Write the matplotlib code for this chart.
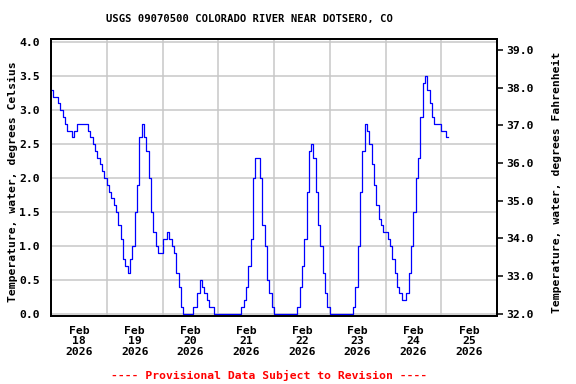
import matplotlib
matplotlib.use("Agg")
import matplotlib.pyplot as plt
import matplotlib.dates as mdates
import matplotlib.ticker as mticker
import pandas as pd

title = "USGS 09070500 COLORADO RIVER NEAR DOTSERO, CO"
footer = "---- Provisional Data Subject to Revision ----"
ylabel_c = "Temperature, water, degrees Celsius"
ylabel_f = "Temperature, water, degrees Fahrenheit"

# hourly water temperature (deg C), starting Feb 18 2026 00:00
temp_feb18 = [3.3, 3.2, 3.2, 3.1, 3.0, 2.9, 2.8, 2.7, 2.7, 2.6, 2.7, 2.8,
              2.8, 2.8, 2.8, 2.8, 2.7, 2.6, 2.5, 2.4, 2.3, 2.2, 2.1, 2.0]
temp_feb19 = [1.9, 1.8, 1.7, 1.6, 1.5, 1.3, 1.1, 0.8, 0.7, 0.6, 0.8, 1.0,
              1.5, 1.9, 2.6, 2.8, 2.6, 2.4, 2.0, 1.5, 1.2, 1.0, 0.9, 0.9]
temp_feb20 = [1.1, 1.1, 1.2, 1.1, 1.0, 0.9, 0.6, 0.4, 0.1, 0.0, 0.0, 0.0,
              0.0, 0.1, 0.1, 0.3, 0.5, 0.4, 0.3, 0.2, 0.1, 0.1, 0.0, 0.0]
temp_feb21 = [0.0, 0.0, 0.0, 0.0, 0.0, 0.0, 0.0, 0.0, 0.0, 0.0, 0.1, 0.2,
              0.4, 0.7, 1.1, 2.0, 2.3, 2.3, 2.0, 1.3, 1.0, 0.5, 0.3, 0.1]
temp_feb22 = [0.0, 0.0, 0.0, 0.0, 0.0, 0.0, 0.0, 0.0, 0.0, 0.0, 0.1, 0.4,
              0.7, 1.1, 1.8, 2.4, 2.5, 2.3, 1.8, 1.3, 1.0, 0.6, 0.3, 0.1]
temp_feb23 = [0.0, 0.0, 0.0, 0.0, 0.0, 0.0, 0.0, 0.0, 0.0, 0.0, 0.1, 0.4,
              1.0, 1.8, 2.4, 2.8, 2.7, 2.5, 2.2, 1.9, 1.6, 1.4, 1.3, 1.2]
temp_feb24 = [1.2, 1.1, 1.0, 0.8, 0.6, 0.4, 0.3, 0.2, 0.2, 0.3, 0.6, 1.0,
              1.5, 2.0, 2.3, 2.9, 3.4, 3.5, 3.3, 3.1, 2.9, 2.8, 2.8, 2.8]
temp_feb25 = [2.7, 2.7, 2.6, 2.6]

temp_c = (temp_feb18 + temp_feb19 + temp_feb20 + temp_feb21 +
          temp_feb22 + temp_feb23 + temp_feb24 + temp_feb25)
times = pd.date_range("2026-02-18 00:00", periods=len(temp_c), freq="h")

font = dict(family="DejaVu Sans Mono", weight="bold")

fig = plt.figure(figsize=(5.76, 3.84), dpi=100)
ax = fig.add_axes([51 / 576, 1 - 316 / 384, 446 / 576, 277 / 384])

ax.plot(times, temp_c, color="#0000FF", linewidth=0.9, drawstyle="steps-post")

ax.set_xlim(pd.Timestamp("2026-02-18"), pd.Timestamp("2026-02-26"))
ax.set_ylim(-0.035, 4.05)

ax.xaxis.set_major_locator(mdates.DayLocator())
ax.xaxis.set_major_formatter(mticker.NullFormatter())
ax.xaxis.set_minor_locator(mdates.HourLocator(byhour=[12]))
ax.xaxis.set_minor_formatter(mdates.DateFormatter("%b\n%d\n%Y"))
ax.tick_params(axis="x", which="both", length=0)
ax.tick_params(axis="x", which="minor", pad=7)

ax.yaxis.set_major_locator(mticker.MultipleLocator(0.5))
ax.yaxis.set_major_formatter(mticker.FormatStrFormatter("%.1f"))
ax.tick_params(axis="y", length=0, pad=8)

ax.grid(True, which="major", color="#C8C8C8", linewidth=1.1)
ax.set_axisbelow(True)

for lbl in ax.get_xticklabels(minor=True) + ax.get_yticklabels():
    lbl.set_fontfamily(font["family"])
    lbl.set_fontweight("bold")
    lbl.set_fontsize(8.2)
for lbl in ax.get_xticklabels(minor=True):
    lbl.set_linespacing(1.05)

for sp in ax.spines.values():
    sp.set_linewidth(1.3)

ax2 = ax.twinx()
lo, hi = ax.get_ylim()
ax2.set_ylim(32 + 1.8 * lo, 32 + 1.8 * hi)
ax2.yaxis.set_major_locator(mticker.MultipleLocator(1.0))
ax2.yaxis.set_major_formatter(mticker.FormatStrFormatter("%.1f"))
ax2.tick_params(axis="y", length=4, width=1.1, pad=3)
for lbl in ax2.get_yticklabels():
    lbl.set_fontfamily(font["family"])
    lbl.set_fontweight("bold")
    lbl.set_fontsize(8.2)
for sp in ax2.spines.values():
    sp.set_linewidth(1.3)

fig.text(13 / 576, 1 - 182 / 384, ylabel_c, rotation=90, ha="center", va="center",
         fontsize=8.2, **font)
fig.text(557 / 576, 1 - 182 / 384, ylabel_f, rotation=90, ha="center", va="center",
         fontsize=8.2, **font)
fig.text(249 / 576, 1 - 19 / 384, title, ha="center", va="center",
         fontsize=7.6, **font)
fig.text(269 / 576, 1 - 375 / 384, footer, ha="center", va="center",
         fontsize=8.2, color="#FF0000", **font)

fig.savefig("out.png", dpi=100)
